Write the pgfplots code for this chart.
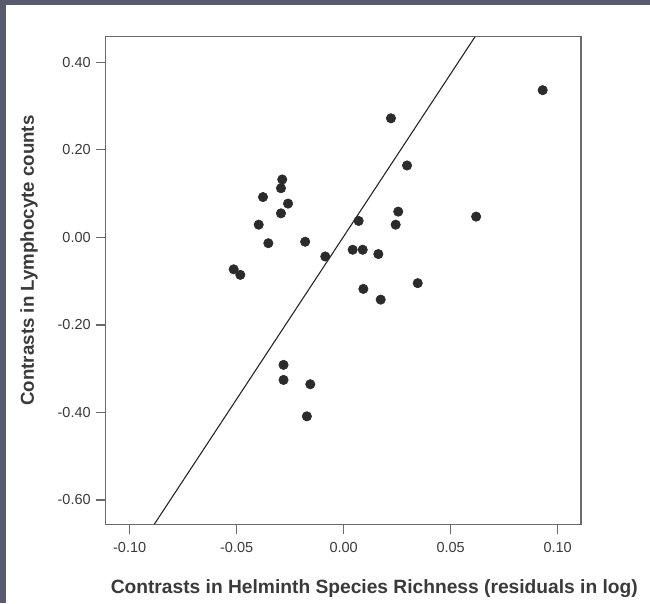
\documentclass[border=0pt]{standalone}
\usepackage{fontspec}
\setmainfont{Liberation Sans}
\usepackage{pgfplots}
\pgfplotsset{compat=1.18}
\usetikzlibrary{calc}
\definecolor{framecol}{HTML}{575B6D}
\definecolor{axcol}{HTML}{6A6A6A}
\definecolor{dotcol}{HTML}{2B2B2B}
\definecolor{txtcol}{HTML}{3A3A3A}
\begin{document}
\begin{tikzpicture}[x=1pt,y=1pt]
\begin{axis}[
    scale only axis, width=475.3pt, height=487.6pt,
    xmin=-0.1112, xmax=0.1109,
    ymin=-0.6557, ymax=0.4587,
    xtick={-0.10,-0.05,0,0.05,0.10},
    ytick={-0.6,-0.4,-0.2,0,0.2,0.4},
    tick pos=left,
    tick align=outside,
    major tick length=10pt,
    axis line style={axcol, line width=1.4pt},
    tick style={axcol, line width=1.2pt},
    /pgf/number format/assume math mode=true,
    xticklabel style={/pgf/number format/.cd, fixed, fixed zerofill, precision=2,
        /tikz/yshift=-5pt},
    yticklabel style={/pgf/number format/.cd, fixed, fixed zerofill, precision=2,
        /tikz/xshift=-1.5pt},
    ticklabel style={font=\fontsize{14.5}{16}\selectfont, text=txtcol},
    xlabel={Contrasts in Helminth Species Richness (residuals in log)},
    ylabel={Contrasts in Lymphocyte counts},
    label style={font=\fontsize{18.7}{20}\selectfont\bfseries, text=txtcol},
    xlabel style={at={(axis description cs:0.5651,-0.141)}, anchor=base,
        font=\fontsize{19.2}{20}\selectfont\bfseries},
    ylabel style={at={(axis description cs:-0.1509,0.541)}, anchor=base},
]
\addplot[no marks, color=black!85, line width=1.1pt]
    coordinates {(-0.0885,-0.6557) (0.0614,0.4587)};
\addplot[only marks, mark=*, mark size=4.7pt,
    mark options={draw=dotcol, fill=dotcol, line width=0.6pt}]
    coordinates {
    (-0.0287, 0.1323) (-0.0293, 0.1124) (-0.0377, 0.0922) (-0.0260, 0.0773)
    (-0.0293, 0.0550) (-0.0397, 0.0291) (-0.0352,-0.0133) (-0.0180,-0.0099)
    (-0.0086,-0.0436) (-0.0514,-0.0729) (-0.0483,-0.0856) (-0.0281,-0.2913)
    (-0.0281,-0.3257) (-0.0156,-0.3356) (-0.0172,-0.4089) ( 0.0221, 0.2722)
    ( 0.0296, 0.1644) ( 0.0255, 0.0589) ( 0.0070, 0.0376) ( 0.0243, 0.0291)
    ( 0.0042,-0.0282) ( 0.0089,-0.0282) ( 0.0162,-0.0381) ( 0.0092,-0.1177)
    ( 0.0173,-0.1422) ( 0.0346,-0.1046) ( 0.0619, 0.0475) ( 0.0930, 0.3365)
    };
\coordinate (O) at (rel axis cs:0,0);
\end{axis}
% page = reference frame, measured from the axis box corner
\pgfresetboundingbox
\useasboundingbox ($(O)+(-105.7,-78.7)$) rectangle ($(O)+(544.3,524.3)$);
\fill[framecol] ($(O)+(-105.7,519.6)$) rectangle ($(O)+(544.3,524.3)$);
\fill[framecol] ($(O)+(-105.7,-78.7)$) rectangle ($(O)+(-99.7,524.3)$);
\end{tikzpicture}
\end{document}
